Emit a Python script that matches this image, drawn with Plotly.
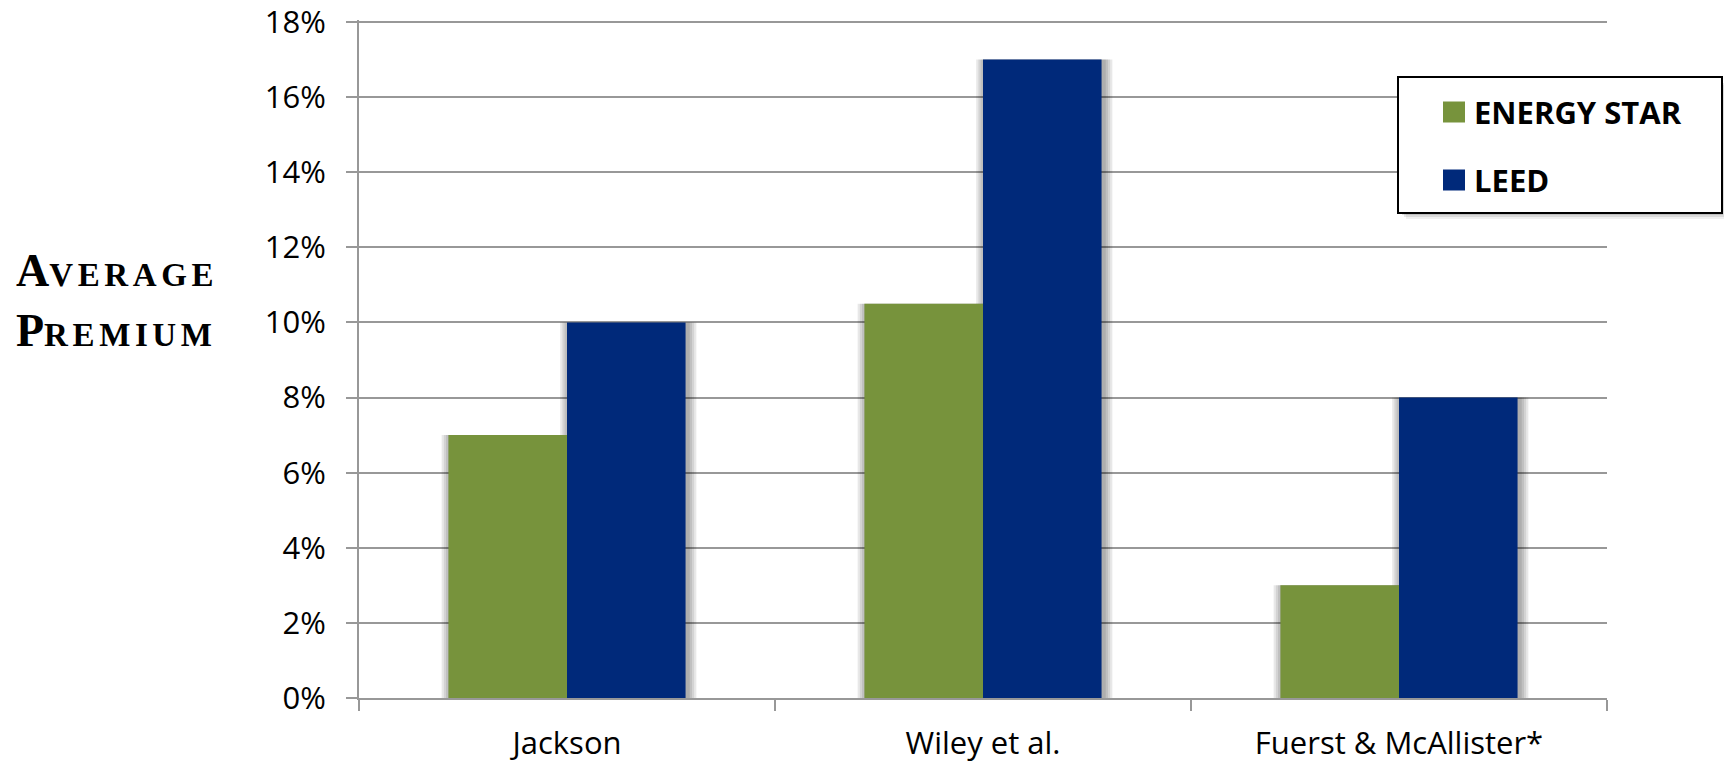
import plotly.graph_objects as go

# ---- data ----
categories = ["Jackson", "Wiley et al.", "Fuerst & McAllister*"]
series_names = ["ENERGY STAR", "LEED"]
energy_star = [0.07, 0.105, 0.03]
leed = [0.10, 0.17, 0.08]
series_values = [energy_star, leed]
series_colors = ["#77933C", "#00297A"]
y_tick_values = [0.0, 0.02, 0.04, 0.06, 0.08, 0.10, 0.12, 0.14, 0.16, 0.18]
y_tick_labels = ["0%", "2%", "4%", "6%", "8%", "10%", "12%", "14%", "16%", "18%"]

# ---- geometry / style ----
PAGE_OFF = 0  # page body margin removed by post_script below
W, H = 1725 - PAGE_OFF, 763 - PAGE_OFF
EXTRA = 2     # px of headroom so the top gridline is drawn
PW, PH = 1248, 676 + EXTRA
ML, MT = 359 - PAGE_OFF, 22 - PAGE_OFF - EXTRA
MR, MB = W - ML - PW, H - MT - PH
Y_TOP = 0.18 * (1 + EXTRA / 676)
BAR_W = 0.285
OFFSETS = [-BAR_W, 0.0]
PX = 3.0 / PW  # one pixel in category units
GRID = "#989898"
TICK_FONT = dict(family="Open Sans, Liberation Sans, sans-serif", size=31, color="#000000")

fig = go.Figure()

# soft drop shadows behind bars
for layer in range(4, 0, -1):
    grow = 2.2 * layer * PX
    for vals, off in zip(series_values, OFFSETS):
        fig.add_trace(go.Bar(
            x=categories, y=vals,
            width=BAR_W + 2 * grow,
            offset=off - grow + 2 * PX,
            marker=dict(color="rgba(0,0,0,0.09)", line=dict(width=0)),
            showlegend=False, hoverinfo="skip",
        ))

# bars
for name, vals, col, off in zip(series_names, series_values, series_colors, OFFSETS):
    fig.add_trace(go.Bar(
        x=categories, y=vals, name=name,
        width=BAR_W, offset=off,
        marker=dict(color=col, line=dict(width=0)),
        showlegend=False,
    ))

# helpers: screen pixel -> paper coords
def px_x(p):
    return (p - PAGE_OFF - ML) / PW

def px_y(p):
    return (MT + PH - (p - PAGE_OFF)) / PH

# legend (drawn manually to match box layout)
LX0, LY0, LX1, LY1 = 1398, 77, 1722, 213
shapes = []
for k, a in [(6, 0.06), (4, 0.09), (2, 0.12)]:
    shapes.append(dict(type="rect", xref="paper", yref="paper",
                       x0=px_x(LX0 + k + 2), x1=px_x(min(LX1 + k - 1, 1724)),
                       y0=px_y(LY1 + k), y1=px_y(LY0 + k + 2),
                       line=dict(width=0), fillcolor=f"rgba(0,0,0,{a})", layer="above"))
shapes.append(dict(type="rect", xref="paper", yref="paper",
                   x0=px_x(LX0), x1=px_x(LX1), y0=px_y(LY1), y1=px_y(LY0),
                   line=dict(color="#000000", width=2), fillcolor="#FFFFFF", layer="above"))
annotations = []
item_centers = [112, 180]
for name, col, cy in zip(series_names, series_colors, item_centers):
    shapes.append(dict(type="rect", xref="paper", yref="paper",
                       x0=px_x(1443), x1=px_x(1465), y0=px_y(cy + 10.5), y1=px_y(cy - 10.5),
                       line=dict(width=0), fillcolor=col, layer="above"))
    annotations.append(dict(xref="paper", yref="paper", x=px_x(1472), y=px_y(cy),
                            xanchor="left", yanchor="middle", showarrow=False,
                            text=f"<b>{name}</b>",
                            font=dict(family="Open Sans, sans-serif", size=31, color="#000000")))

# y-axis title in small caps
small = "font-size:33px;letter-spacing:4.6px"
title_text = (f"<b>A<span style='{small}'>VERAGE</span><br>"
              f"P<span style='{small}'>REMIUM</span></b>")
annotations.append(dict(xref="paper", yref="paper", x=px_x(14), y=px_y(300),
                        xanchor="left", yanchor="middle", align="left", showarrow=False,
                        text=title_text,
                        font=dict(family="Liberation Serif, Times New Roman, serif", size=46, color="#000000")))

fig.update_layout(
    width=W, height=H,
    margin=dict(l=ML, r=MR, t=MT, b=MB, pad=0, autoexpand=False),
    paper_bgcolor="#FFFFFF", plot_bgcolor="#FFFFFF",
    barmode="overlay",
    showlegend=False,
    shapes=shapes,
    annotations=annotations,
    xaxis=dict(
        type="category", range=[-0.5, 2.5],
        showgrid=False, showline=True, linecolor=GRID, linewidth=2,
        ticks="outside", tickson="boundaries", ticklen=11, tickcolor=GRID, tickwidth=2,
        tickfont=TICK_FONT, ticklabelstandoff=17, automargin=False,
        ticklabeloverflow="allow",
    ),
    yaxis=dict(
        range=[0, Y_TOP], tickvals=y_tick_values, ticktext=y_tick_labels,
        showgrid=True, gridcolor=GRID, gridwidth=2, zeroline=False,
        showline=True, linecolor=GRID, linewidth=2,
        ticks="outside", ticklen=11, tickcolor=GRID, tickwidth=2,
        tickfont=TICK_FONT, ticklabelstandoff=14, automargin=False,
        ticklabeloverflow="allow",
    ),
)

fig.write_html(
    "out.html",
    config={"displayModeBar": False},
    post_script="document.body.style.margin='0';document.body.style.overflow='hidden';",
)
